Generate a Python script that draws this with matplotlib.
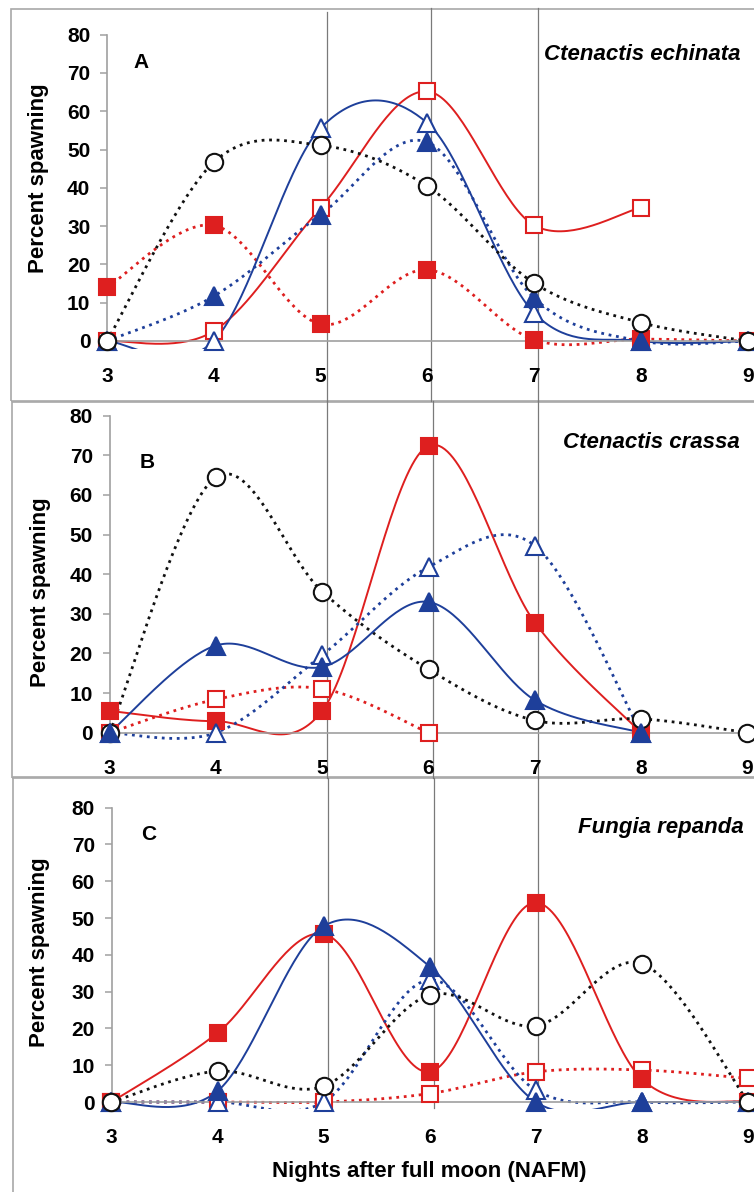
import numpy as np
import matplotlib
matplotlib.use("Agg")
import matplotlib.pyplot as plt
from matplotlib.lines import Line2D
from matplotlib.patches import Rectangle

plt.rcParams['font.family'] = ['Liberation Sans', 'DejaVu Sans']

# ---------------- data ----------------
nights = [3, 4, 5, 6, 7, 8, 9]
y_ticks = [0, 10, 20, 30, 40, 50, 60, 70, 80]

# Panel A  - Ctenactis echinata
A_sq_filled = [14, 30.2, 4.4, 18.6, 0.3, 0.5, 0]
A_sq_open = [0, 2.6, 34.8, 65.2, 30.2, 34.8]
A_circle = [0, 46.7, 51.1, 40.4, 15.1, 4.8, 0]
A_tri_filled = [0, 11.7, 33.0, 51.9, 11.2, 0, 0]
A_tri_open = [0, 0, 55.6, 56.9, 7.3, 0, 0]

# Panel B  - Ctenactis crassa
B_sq_filled = [5.5, 2.9, 5.5, 72.4, 27.8, 0]
B_sq_open = [0, 8.4, 11.1, 0]
B_circle = [0, 64.5, 35.6, 16.0, 3.1, 3.5, 0]
B_tri_filled = [0, 22.0, 16.6, 33.0, 8.2, 0]
B_tri_open = [0, 0, 19.6, 41.8, 47.2, 0]

# Panel C  - Fungia repanda
C_sq_filled = [0, 18.8, 45.7, 8.2, 54.2, 6.2, 0]
C_sq_open = [0, 0, 0, 2.3, 8.2, 8.7, 6.4]
C_circle = [0, 8.4, 4.3, 29.1, 20.7, 37.6, 0]
C_tri_filled = [0, 3.0, 47.8, 36.8, 0, 0, 0]
C_tri_open = [0, 0, 0, 33.2, 3.2, 0, 0]

panel_letters = ['A', 'B', 'C']
species = ['Ctenactis echinata', 'Ctenactis crassa', 'Fungia repanda']
y_label = 'Percent spawning'
x_label = 'Nights after full moon (NAFM)'

RED = '#DE1F1F'
BLUE = '#1E3F9A'
BLACK = '#111111'
GRID = '#A0A0A0'

W, H = 754, 1192
fig = plt.figure(figsize=(W / 100, H / 100), dpi=100)


def smooth(xs, ys, n=40):
    P = np.column_stack([np.asarray(xs, float), np.asarray(ys, float)])
    out = [P[0]]
    t = np.linspace(0, 1, n)[1:, None]
    for i in range(len(P) - 1):
        p0 = P[i - 1] if i > 0 else P[i]
        p1, p2 = P[i], P[i + 1]
        p3 = P[i + 2] if i + 2 < len(P) else P[i + 1]
        c1 = p1 + (p2 - p0) / 6
        c2 = p2 - (p3 - p1) / 6
        seg = ((1 - t) ** 3) * p1 + 3 * ((1 - t) ** 2) * t * c1 + 3 * (1 - t) * t ** 2 * c2 + t ** 3 * p2
        out.extend(seg)
    return np.array(out)


DOT = (0, (1.0, 1.7))

# series spec: values, color, linestyle, marker, filled, zorder
panels = [
    dict(series=[(A_sq_open, RED, '-', 's', False, 4),
                 (A_sq_filled, RED, DOT, 's', True, 5),
                 (A_tri_open, BLUE, '-', '^', False, 6),
                 (A_tri_filled, BLUE, DOT, '^', True, 7),
                 (A_circle, BLACK, DOT, 'o', False, 8)],
         x0=107, ppx=106.8, y0=341, ppy=3.829,
         letter=(141, 62), ylab=(39, 178), spec=(741, 55)),
    dict(series=[(B_sq_open, RED, DOT, 's', False, 4),
                 (B_sq_filled, RED, '-', 's', True, 5),
                 (B_tri_open, BLUE, DOT, '^', False, 6),
                 (B_circle, BLACK, DOT, 'o', False, 7),
                 (B_tri_filled, BLUE, '-', '^', True, 8)],
         x0=109.6, ppx=106.3, y0=732.7, ppy=3.9625,
         letter=(147, 462), ylab=(41, 592), spec=(740, 443)),
    dict(series=[(C_sq_open, RED, DOT, 's', False, 4),
                 (C_sq_filled, RED, '-', 's', True, 5),
                 (C_tri_open, BLUE, DOT, '^', False, 6),
                 (C_tri_filled, BLUE, '-', '^', True, 7),
                 (C_circle, BLACK, DOT, 'o', False, 8)],
         x0=111.5, ppx=106.1, y0=1102, ppy=3.679,
         letter=(149, 834), ylab=(40, 952), spec=(744, 827)),
]

XMAX = 9.7
YMIN, YMAX = -2, 80

# panel boxes (figure-level, behind)
boxes = [(11, 8.5, 401), (12, 401.5, 778), (13, 777, 1250)]
for (l, t, b) in boxes:
    r = Rectangle((l / W, 1 - b / H), (800 - l) / W, (b - t) / H, transform=fig.transFigure,
                  fill=False, edgecolor='#A8A8A8', lw=1.2, zorder=-2)
    fig.patches.append(r)

# vertical reference lines (figure-level)
vsegs = [
    [(327, 12, 401), (431, 8, 401), (537.5, 8, 401)],
    [(327, 401, 778), (433, 401, 778), (537.5, 401, 778)],
    [(328, 778, 1106), (434, 778, 1108), (538, 778, 1102)],
]
for seglist in vsegs:
    for (xp, yt, yb) in seglist:
        fig.lines.append(Line2D([xp / W, xp / W], [1 - yt / H, 1 - yb / H], transform=fig.transFigure,
                                color='#7A7A7A', lw=0.9, zorder=-1))

for k, p in enumerate(panels):
    left = p['x0'] / W
    width = (XMAX - 3) * p['ppx'] / W
    bottom_px = p['y0'] - YMIN * p['ppy']
    bottom = 1 - bottom_px / H
    height = (YMAX - YMIN) * p['ppy'] / H
    ax = fig.add_axes([left, bottom, width, height])
    ax.set_facecolor('none')
    ax.set_xlim(3, XMAX)
    ax.set_ylim(YMIN, YMAX)

    for vals, col, ls, mk, filled, z in p['series']:
        xs = nights[:len(vals)]
        c = smooth(xs, vals)
        lw = 1.4 if ls == '-' else 2.0
        ax.plot(c[:, 0], c[:, 1], color=col, ls=ls, lw=lw, zorder=2, solid_capstyle='round',
                dash_capstyle='butt')
        ms = {'s': 11, '^': 13, 'o': 12.5}[mk]
        ax.plot(xs, vals, ls='none', marker=mk, ms=ms, mew=1.5, mec=col,
                mfc=col if filled else 'white', zorder=z, clip_on=False)

    for s in ['top', 'right']:
        ax.spines[s].set_visible(False)
    ax.spines['left'].set_color(GRID)
    ax.spines['left'].set_linewidth(1.2)
    ax.spines['left'].set_bounds(-1.5, 80)
    ax.spines['bottom'].set_position(('data', 0))
    ax.spines['bottom'].set_color(GRID)
    ax.spines['bottom'].set_linewidth(1.2)
    ax.set_yticks(y_ticks)
    ax.set_yticklabels([str(v) for v in y_ticks], fontsize=15, fontweight='bold')
    ax.set_xticks(nights)
    ax.set_xticklabels([str(v) for v in nights], fontsize=15, fontweight='bold')
    ax.tick_params(axis='y', direction='out', length=5, width=1.1, color=GRID, pad=7)
    ax.tick_params(axis='x', length=0, pad=19)

    lx, ly = p['letter']
    fig.text(lx / W, 1 - ly / H, panel_letters[k], fontsize=15, fontweight='bold',
             ha='center', va='center')
    yx, yy = p['ylab']
    fig.text(yx / W, 1 - yy / H, y_label, fontsize=16, fontweight='bold', rotation=90,
             ha='center', va='center')
    sx, sy = p['spec']
    fig.text(sx / W, 1 - sy / H, species[k], fontsize=16, fontweight='bold', style='italic',
             ha='right', va='center')

fig.text(429 / W, 1 - 1172 / H, x_label, fontsize=16, fontweight='bold', ha='center', va='center')

fig.savefig('out.png', dpi=100)
